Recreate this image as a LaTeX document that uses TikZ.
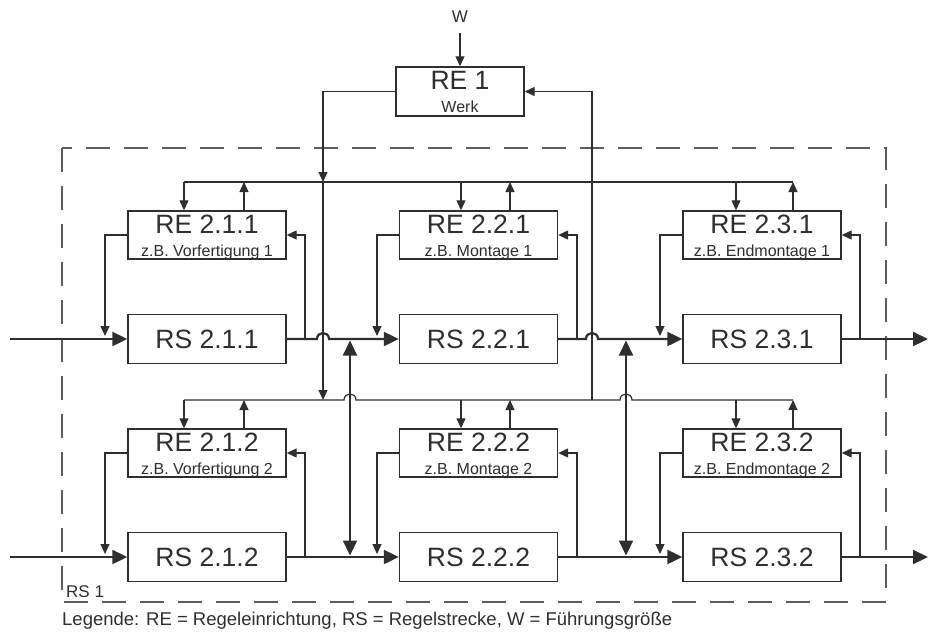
\documentclass[tikz,border=0pt]{standalone}
\usepackage{fontspec}
\setmainfont{Liberation Sans}
\usetikzlibrary{arrows.meta}
\definecolor{ink}{HTML}{2E2E2E}
\definecolor{framegray}{HTML}{5C5C5C}

\begin{document}
\begin{tikzpicture}[x=1pt,y=-1pt,
  blk/.style={draw=ink, line width=1.4pt, fill=white, inner sep=0pt,
              minimum width=158pt, minimum height=48pt},
  rsbox/.style={blk, minimum height=49pt, text=ink,
                font=\fontsize{26.5}{30}\selectfont},
  bigtxt/.style={anchor=base, inner sep=0pt, text=ink,
                 font=\fontsize{26.5}{30}\selectfont},
  smalltxt/.style={anchor=base, inner sep=0pt, text=ink,
                   font=\fontsize{16}{19}\selectfont},
  sig/.style={draw=ink, line width=1.2pt},
  sigarr/.style={sig, -{Triangle[length=10pt,width=9pt]}},
  flow/.style={draw=ink, line width=2.2pt},
  flowarr/.style={flow, -{Triangle[length=15pt,width=14pt]}},
  flowboth/.style={flow, {Triangle[length=15pt,width=14pt]}-{Triangle[length=15pt,width=14pt]}},
]
\useasboundingbox (0,0) rectangle (929,633);

% system boundary RS 1
\draw[framegray, line width=1.5pt, dash pattern=on 24pt off 14pt]
  (62,148) rectangle (886,602);
\node[smalltxt, anchor=base west, font=\fontsize{17}{20}\selectfont] (rs1lbl) at (66,597) {RS 1};
\node[smalltxt, anchor=base west, font=\fontsize{18.5}{22}\selectfont] (legend) at (62,625)
  {Legende: RE = Regeleinrichtung, RS = Regelstrecke, W = Führungsgröße};

% plant-level controller
\node[blk, minimum width=128pt, minimum height=49pt] (re1) at (460,91.5) {};
\node[bigtxt] (re1t) at ([yshift=-23pt]re1.north) {RE 1};
\node[smalltxt] (re1s) at ([yshift=-46pt]re1.north) {Werk};
\node[smalltxt, font=\fontsize{17}{20}\selectfont] (wlbl) at (460,22) {W};
\coordinate (wtop) at (460,33);
\draw[sigarr] (wtop) -- (re1.north);

% controllers and controlled systems, column c, row r
\foreach \c/\x/\lf/\rf/\dn/\up/\sub in
  {1/207/105/305/184/244/Vorfertigung,
   2/478.5/377/577/461/510/Montage,
   3/762/660/860/736/793/Endmontage}{
  \foreach \r/\ry/\sy/\by in {1/235/339/182, 2/453/557/400}{
    \node[blk] (re\c\r) at (\x,\ry) {};
    \node[bigtxt] (ret\c\r) at ([yshift=-23pt]re\c\r.north) {RE 2.\c.\r};
    \node[smalltxt] (res\c\r) at ([yshift=-46pt]re\c\r.north) {z.B. \sub\ \r};
    \node[rsbox] (rs\c\r) at (\x,\sy) {RS 2.\c.\r};
    % feedback loop
    \coordinate (fb\c\r) at (\rf,\sy);
    \coordinate (ff\c\r) at (\lf,\sy-3);
    \draw[sigarr] (fb\c\r) |- (re\c\r.east);
    \draw[sigarr] (re\c\r.west) -| (ff\c\r);
    % links to the bus
    \coordinate (dn\c\r) at (\dn,\by);
    \coordinate (up\c\r) at (\up,\by);
    \draw[sigarr] (dn\c\r) -- (re\c\r.north -| dn\c\r);
    \draw[sigarr] (re\c\r.north -| up\c\r) -- (up\c\r);
  }
}

% signal buses
\draw[sig] (dn11) -- (up31);
\draw[sig] (dn12) -- (344,400) .. controls (344,392) and (356,392) .. (356,400)
  -- (620,400) .. controls (620,392) and (632,392) .. (632,400) -- (up32);

% plant controller to and from the buses
\coordinate (lt) at (323,182);
\coordinate (lb) at (323,400);
\coordinate (rb) at (592,400);
\draw[sigarr] (re1.west) -| (lt);
\draw[sigarr] (lt) -- (lb);
\draw[sigarr] (rb) |- (re1.east);

% material flow, row 1
\coordinate (in1) at (10,339);
\coordinate (out1) at (928,339);
\draw[flowarr] (in1) -- (rs11.west);
\draw[flowarr] (rs11.east) -- (317,339) .. controls (317,331) and (329,331) .. (329,339)
  -- (rs21.west);
\draw[flowarr] (rs21.east) -- (586,339) .. controls (586,331) and (598,331) .. (598,339)
  -- (rs31.west);
\draw[flowarr] (rs31.east) -- (out1);

% material flow, row 2
\coordinate (in2) at (10,557);
\coordinate (out2) at (928,557);
\draw[flowarr] (in2) -- (rs12.west);
\draw[flowarr] (rs12.east) -- (rs22.west);
\draw[flowarr] (rs22.east) -- (rs32.west);
\draw[flowarr] (rs32.east) -- (out2);

% exchange between the rows
\coordinate (xa1) at (350,340.5);
\coordinate (xb1) at (350,555.5);
\coordinate (xa2) at (626,340.5);
\coordinate (xb2) at (626,555.5);
\draw[flowboth] (xa1) -- (xb1);
\draw[flowboth] (xa2) -- (xb2);
\end{tikzpicture}
\end{document}
